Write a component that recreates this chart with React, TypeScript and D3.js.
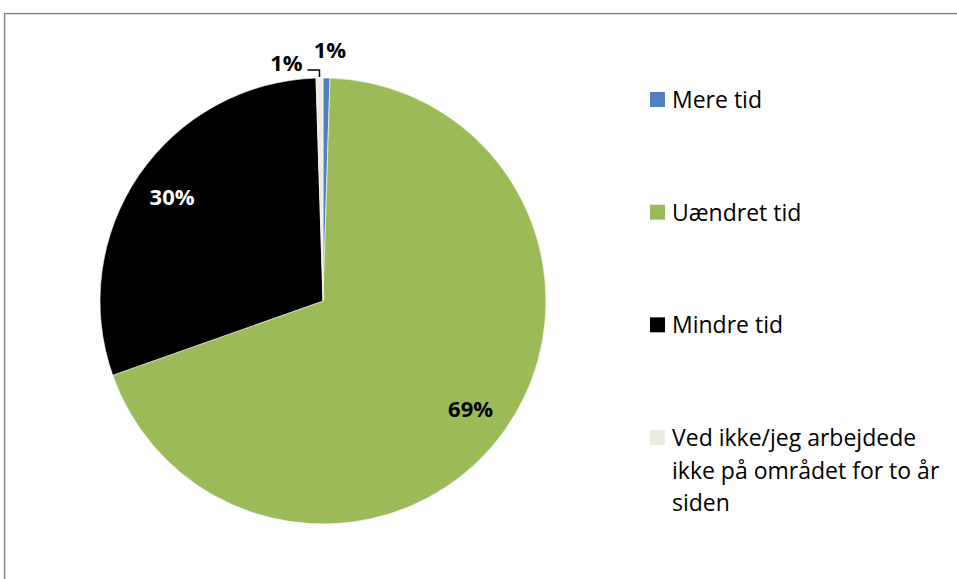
import React, { useEffect, useRef } from "react";
import * as d3 from "d3";

const categories = ["Mere tid", "Uændret tid", "Mindre tid", "Ved ikke/jeg arbejdede ikke på området for to år siden"];
const values = [0.5, 69.1, 29.9, 0.5];
const colors = ["#4F81BD", "#9BBB59", "#000000", "#EEECE1"];
const labelColors = ["#000000", "#000000", "#FFFFFF", "#000000"];
const legendLines = [["Mere tid"], ["Uændret tid"], ["Mindre tid"], ["Ved ikke/jeg arbejdede", "ikke på området for to år", "siden"]];

const W = 957;
const H = 579;

export default function App() {
  const ref = useRef<SVGSVGElement | null>(null);
  useEffect(() => {
    document.body.style.margin = "0";
    const svg = d3.select(ref.current);
    svg.selectAll("*").remove();

    svg.append("rect").attr("x", 0).attr("y", 0).attr("width", W).attr("height", H).attr("fill", "#fff");
    // outer frame
    svg.append("rect").attr("x", 4.5).attr("y", 13.5).attr("width", 1200).attr("height", 1000)
      .attr("fill", "none").attr("stroke", "#868686").attr("stroke-width", 1.3);
    svg.append("rect").attr("x", 5.5).attr("y", 14.5).attr("width", 1200).attr("height", 1000)
      .attr("fill", "none").attr("stroke", "#d9d9d9").attr("stroke-width", 1);

    const cx = 323, cy = 301, R = 223;
    const g = svg.append("g").attr("transform", `translate(${cx},${cy})`);
    const pie = d3.pie<number>().sort(null).value((d) => d);
    const arcs = pie(values);
    const arc = d3.arc<d3.PieArcDatum<number>>().innerRadius(0).outerRadius(R);

    g.selectAll("path.slice").data(arcs).enter().append("path")
      .attr("class", "slice")
      .attr("d", arc as any)
      .attr("fill", (_d, i) => colors[i])
      .attr("stroke", "#ffffff").attr("stroke-width", 0.6);

    const font = "'Open Sans', 'DejaVu Sans', sans-serif";
    const pt = (a: number, r: number) => [r * Math.sin(a), -r * Math.cos(a)];
    const fs = 22;

    arcs.forEach((d, i) => {
      const pct = Math.round(d.value) + "%";
      const mid = (d.startAngle + d.endAngle) / 2;
      if (d.value >= 5) {
        const [x, y] = pt(mid, R * 0.82);
        g.append("text").attr("x", x).attr("y", y).attr("dy", "0.35em")
          .attr("text-anchor", "middle").attr("font-family", font).attr("font-weight", 700)
          .attr("font-size", fs).attr("fill", labelColors[i]).text(pct);
      } else if (i === 0) {
        const [x, y] = pt(mid, R + 28);
        g.append("text").attr("x", x + 3).attr("y", y).attr("dy", "0.35em")
          .attr("text-anchor", "middle").attr("font-family", font).attr("font-weight", 700)
          .attr("font-size", fs).attr("fill", "#000").text(pct);
      } else {
        const [ex, ey] = pt(mid, R + 1);
        const ky = ey - 7;
        const lx = ex - 12;
        g.append("path").attr("d", `M${ex},${ey} L${ex},${ky} L${lx},${ky}`)
          .attr("fill", "none").attr("stroke", "#000").attr("stroke-width", 1.5);
        g.append("text").attr("x", lx - 21).attr("y", ky - 7).attr("dy", "0.35em")
          .attr("text-anchor", "middle").attr("font-family", font).attr("font-weight", 700)
          .attr("font-size", fs).attr("fill", "#000").text(pct);
      }
    });

    // legend
    const legendY = d3.scalePoint<string>().domain(categories).range([108, 446]);
    const lg = svg.append("g");
    categories.forEach((c, i) => {
      const by = legendY(c) as number;
      lg.append("rect").attr("x", 650).attr("y", by - 16).attr("width", 15).attr("height", 15)
        .attr("fill", colors[i]);
      legendLines[i].forEach((line, j) => {
        lg.append("text").attr("x", 672).attr("y", by + j * 32.5)
          .attr("font-family", font).attr("font-size", 23).attr("fill", "#000").text(line);
      });
    });
  }, []);
  return <svg ref={ref} width={W} height={H} style={{ display: "block" }} />;
}
